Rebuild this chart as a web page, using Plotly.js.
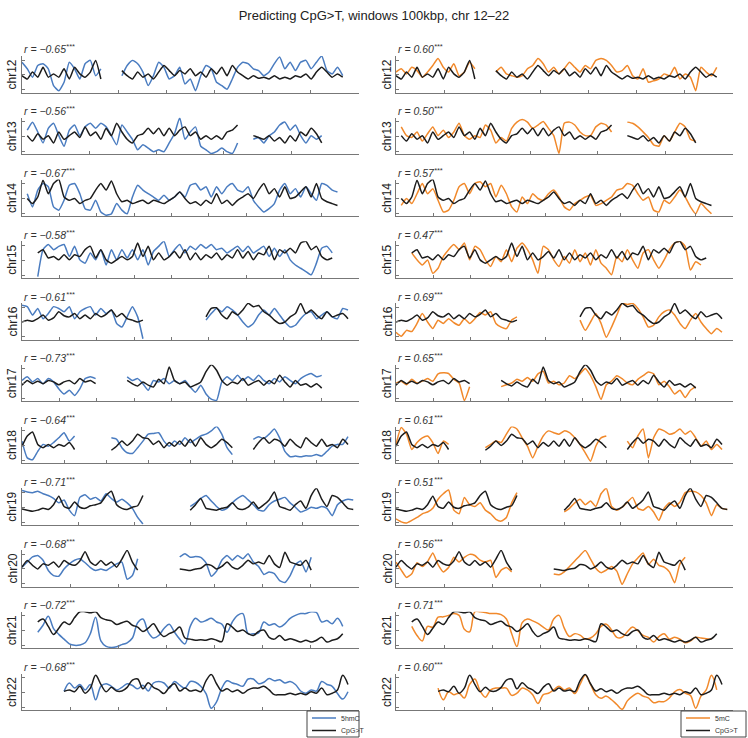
<!DOCTYPE html>
<html><head><meta charset="utf-8">
<script src="https://cdn.plot.ly/plotly-3.0.1.min.js"></script>
<style>html,body{margin:0;padding:0;background:#fff}#chart{width:748px;height:738px}</style>
</head><body><div id="chart"></div>
<script>
const _ = null;
const chromosomes = ['chr12','chr13','chr14','chr15','chr16','chr17','chr18','chr19','chr20','chr21','chr22'];
// x axis length (in 100 kbp windows) and tick spacing per chromosome
const axisMax  = [1400,1000,900,900,900,900,800,600,700,350,350];
const tickStep = [200,200,100,100,100,100,100,100,100,50,50];
const rHmC = ['\u22120.65','\u22120.56','\u22120.67','\u22120.58','\u22120.61','\u22120.73','\u22120.64','\u22120.71','\u22120.68','\u22120.72','\u22120.68'];
const rMC  = ['0.60','0.50','0.57','0.47','0.69','0.65','0.61','0.51','0.56','0.71','0.60'];
const legendLeft  = ['5hmC','CpG>T'];
const legendRight = ['5mC','CpG>T'];

// 65 samples per chromosome (index i -> window i*axisMax/64), normalised signal 0-100
const cpg12 = [46,37,56,42,69,42,51,42,65,37,69,51,42,56,88,37,_,_,_,60,46,37,56,42,51,37,56,74,60,46,60,51,65,46,56,42,65,51,69,46,74,56,46,37,46,39,42,37,46,37,42,37,46,42,51,37,56,69,56,42,51,42,_,_,_];
const hmc12 = [83,65,42,74,79,65,19,5,28,83,65,37,79,88,46,65,_,_,_,46,74,88,79,56,19,46,83,69,37,46,69,23,37,5,46,74,65,28,19,9,37,69,83,79,65,60,46,56,79,97,65,83,60,83,88,65,83,100,60,51,69,46,_,_,_];
const mc12  = [56,65,51,69,60,42,56,74,93,69,56,79,46,56,83,65,_,_,_,56,69,51,46,42,46,65,74,93,79,56,69,51,65,83,69,56,74,65,88,93,88,74,56,60,74,46,37,65,28,32,37,51,46,69,37,51,42,5,69,56,46,69,_,_,_];

const cpg13 = [_,51,36,56,41,51,31,61,41,51,61,46,75,51,61,41,71,51,85,61,41,31,51,56,71,56,71,51,71,51,66,75,51,61,41,51,41,51,41,61,66,80,_,_,51,46,41,51,36,46,31,51,36,61,51,71,56,31,_,_,_,_,_,_,_];
const hmc13 = [_,66,88,61,31,71,85,51,22,66,80,51,75,85,71,85,75,51,26,80,61,41,12,26,17,7,12,7,31,56,100,41,61,75,22,12,2,7,17,7,2,31,_,_,41,46,31,51,61,80,88,66,80,51,31,51,41,51,_,_,_,_,_,_,_];
const mc13  = [_,75,51,46,61,36,56,75,51,66,46,61,85,51,41,51,46,80,66,31,46,36,71,88,95,88,71,80,90,71,51,2,85,88,80,61,51,51,75,85,80,61,_,_,88,85,75,61,46,26,22,51,36,61,85,75,41,36,_,_,_,_,_,_,_];

const cpg14 = [_,48,34,52,98,61,89,100,52,43,48,34,43,48,71,89,71,96,61,39,43,34,39,43,34,43,39,34,43,52,66,48,34,39,29,43,34,61,34,43,29,43,52,61,48,71,89,61,75,52,80,48,52,66,80,52,89,48,39,34,29,_,_,_,_];
const hmc14 = [_,61,25,71,89,80,25,16,43,84,89,61,20,16,43,11,2,6,34,16,6,52,84,71,61,52,43,57,43,52,66,52,84,89,71,80,52,80,61,80,89,71,66,80,43,25,11,20,34,71,89,61,75,52,80,61,43,89,84,71,66,_,_,_,_];
const mc14  = [_,29,48,34,61,89,61,75,43,11,16,43,80,89,61,89,94,80,89,52,84,61,25,11,52,34,61,48,43,61,71,52,25,16,34,43,52,57,29,34,43,52,71,75,89,84,61,43,52,16,11,43,34,52,71,52,25,6,34,20,6,_,_,_,_];

const cpg15 = [_,_,_,68,77,54,58,49,63,49,63,58,77,86,54,77,49,40,49,58,49,58,95,58,86,49,68,49,58,72,54,77,49,68,49,63,54,68,49,63,54,77,54,72,49,68,63,86,49,77,68,81,68,95,100,77,86,58,49,54,_,_,_,_,_];
const hmc15 = [_,_,_,3,77,91,77,86,91,58,86,49,40,68,49,77,35,77,49,77,54,77,49,77,35,72,86,100,58,77,91,68,86,77,91,81,91,77,81,68,77,86,72,86,68,77,86,58,81,58,77,49,35,26,17,8,40,81,86,68,_,_,_,_,_];
const mc15  = [_,_,_,68,49,35,49,12,26,58,77,91,77,95,49,86,77,49,31,58,44,77,44,81,95,77,49,12,86,77,49,31,58,40,77,44,68,35,77,40,26,8,58,44,77,49,26,68,77,49,26,49,77,95,100,86,21,44,35,_,_,_,_,_,_];

const cpg16 = [48,53,50,57,67,53,59,76,65,62,71,57,67,57,71,62,69,81,62,71,57,53,48,53,_,_,_,_,_,_,_,_,_,_,_,62,85,87,67,57,76,67,81,99,90,93,76,67,53,44,48,62,71,99,71,81,67,57,76,62,67,71,57,_,_];
const hmc16 = [94,90,67,85,57,71,90,85,76,90,57,76,85,90,67,85,71,81,44,34,62,90,62,2,_,_,_,_,_,_,_,_,_,_,_,53,71,85,76,90,81,67,48,34,44,67,81,67,85,67,48,34,39,57,71,76,57,67,76,62,57,85,81,_,_];
const mc16  = [20,9,25,22,44,71,48,30,53,44,57,46,39,57,44,57,74,67,76,44,34,30,53,62,_,_,_,_,_,_,_,_,_,_,_,53,25,48,71,44,6,34,67,99,96,99,85,62,34,39,62,76,81,67,44,30,53,71,48,30,16,30,20,_,_];

const cpg17 = [44,57,48,55,48,57,53,45,53,57,48,62,53,57,48,_,_,_,_,_,57,48,42,53,44,39,60,48,94,57,48,53,39,45,53,81,100,85,57,44,53,48,62,44,51,57,44,57,48,71,53,39,57,44,48,39,48,36,_,_,_,_,_,_,_];
const hmc17 = [57,67,53,62,48,62,53,34,20,30,16,34,62,67,62,_,_,_,_,_,67,57,62,48,30,57,53,62,48,57,48,57,39,25,44,20,6,2,53,67,57,71,57,67,57,71,57,48,62,53,67,57,48,62,71,76,67,71,_,_,_,_,_,_,_];
const mc17  = [50,55,45,60,50,55,62,55,75,78,76,60,50,2,40,_,_,_,_,_,40,45,50,60,55,65,55,75,82,50,55,45,50,70,62,75,90,70,40,5,45,55,70,62,50,45,60,70,80,75,45,55,40,20,30,10,30,40,_,_,_,_,_,_,_];

const cpg18 = [46,74,85,51,42,51,42,51,46,56,37,_,_,_,_,_,_,35,46,60,48,60,79,69,67,51,60,42,56,46,60,46,65,46,69,51,42,51,65,56,42,_,_,_,37,56,69,54,65,60,46,65,51,42,69,56,46,65,46,51,42,65,51,_,_];
const hmc18 = [60,14,9,32,51,46,56,69,83,60,74,_,_,_,_,_,_,69,65,42,28,26,42,60,79,81,83,60,46,60,51,69,56,65,74,79,88,100,79,42,23,_,_,_,65,72,67,79,93,69,32,17,19,17,20,19,23,19,32,46,51,51,72,_,_];
const mc18  = [51,97,79,37,56,69,74,56,26,60,51,_,_,_,_,_,_,42,51,60,56,79,100,93,69,46,14,46,74,88,83,79,88,83,69,51,28,5,46,69,74,_,_,_,60,42,74,93,14,69,93,88,79,83,93,79,88,69,46,60,37,51,37,_,_];

const cpg19 = [43,40,37,40,45,42,55,78,50,45,62,48,45,52,55,60,80,92,55,45,42,48,52,80,_,_,_,_,_,_,_,_,40,55,72,45,42,40,45,48,60,45,42,48,62,45,55,68,90,50,45,40,55,65,45,80,100,70,50,80,75,60,45,42,_];
const hmc19 = [94,90,88,92,85,80,72,60,68,40,25,75,82,70,75,65,85,72,62,70,60,45,20,2,_,_,_,_,_,_,_,_,50,60,72,80,65,50,40,45,60,72,80,68,55,40,38,55,65,70,75,60,48,35,40,48,45,50,45,25,55,65,70,68,_];
const mc19  = [16,8,5,12,20,30,35,45,70,85,95,40,30,75,55,50,60,40,30,15,10,20,60,88,_,_,_,_,_,_,_,_,35,45,60,70,55,65,50,85,100,50,40,48,62,75,45,40,50,35,12,45,60,50,62,88,92,90,80,60,25,55,45,42,_];

const cpg20 = [53,71,58,48,62,58,67,53,71,62,58,70,95,67,58,71,58,67,53,75,99,67,45,_,_,_,_,_,_,_,48,46,44,48,50,60,58,48,55,67,53,48,58,72,62,67,62,85,62,52,94,67,62,58,72,45,_,_,_,_,_,_,_,_,_];
const hmc20 = [53,67,81,85,72,44,30,28,48,62,72,76,65,52,44,48,44,53,62,67,20,30,76,_,_,_,_,_,_,_,81,90,80,82,80,65,28,42,72,85,72,85,76,90,67,55,33,40,35,16,11,30,60,70,40,80,_,_,_,_,_,_,_,_,_];
const mc20  = [67,45,25,35,65,55,68,92,60,40,52,80,67,80,88,85,72,67,72,25,45,52,40,_,_,_,_,_,_,_,34,32,40,55,70,85,99,75,50,38,45,55,42,6,35,62,78,92,60,75,58,53,40,10,62,80,_,_,_,_,_,_,_,_,_];

const cpg21 = [_,_,_,72,80,60,38,55,72,65,84,100,100,97,100,84,78,75,65,70,74,63,58,46,55,67,46,32,40,46,58,28,25,22,23,22,26,22,18,67,58,46,50,40,35,46,50,30,25,35,22,26,22,17,22,17,22,30,17,22,26,40,_,_,_];
const hmc21 = [_,_,_,44,63,88,54,38,25,12,8,9,15,40,85,20,5,2,4,10,15,28,70,80,44,28,35,54,66,44,25,12,60,82,72,76,82,72,66,44,72,90,95,40,40,42,72,63,67,58,67,82,90,95,95,100,98,72,76,67,82,60,_,_,_];
const mc21  = [_,_,_,60,35,20,60,58,85,86,90,95,90,52,45,100,100,98,95,95,92,80,40,5,70,80,75,68,58,50,80,90,55,32,40,36,25,28,40,60,66,50,30,30,45,58,48,35,30,17,32,40,25,30,25,15,20,30,28,26,25,_,_,_,_];

const cpg22 = [_,_,_,_,_,_,_,_,51,55,50,65,46,60,95,70,50,62,52,52,62,82,85,58,75,62,55,45,62,72,52,60,52,55,50,80,97,72,52,58,50,55,46,55,60,60,65,55,42,42,42,46,42,46,42,50,46,60,42,46,55,95,70,_,_];
const hmc22 = [_,_,_,_,_,_,_,_,51,74,60,70,55,70,28,65,72,65,55,62,72,67,58,68,52,74,78,74,60,78,68,60,78,76,65,45,5,22,60,80,74,70,65,85,85,72,76,86,80,83,74,78,70,52,46,55,52,78,70,65,45,30,50,_,_];
const mc22  = [_,_,_,_,_,_,_,_,60,28,50,42,46,33,70,85,52,35,55,60,60,60,40,46,60,55,42,18,42,46,55,65,55,60,45,70,95,70,42,32,38,28,15,2,25,38,46,38,33,20,23,23,33,50,56,46,40,5,38,55,95,55,_,_,_];

const cpgT = [cpg12,cpg13,cpg14,cpg15,cpg16,cpg17,cpg18,cpg19,cpg20,cpg21,cpg22];
const hmC  = [hmc12,hmc13,hmc14,hmc15,hmc16,hmc17,hmc18,hmc19,hmc20,hmc21,hmc22];
const mC   = [mc12,mc13,mc14,mc15,mc16,mc17,mc18,mc19,mc20,mc21,mc22];

const BLUE = '#4a7cc0', ORANGE = '#f1892b', BLACK = '#1c1c1c';
const W = 748, H = 738;
const traces = [], annotations = [], shapes = [];
const layout = {
  width: W, height: H, margin: {l:0, r:0, t:0, b:0},
  paper_bgcolor: '#fff', plot_bgcolor: '#fff',
  font: {family: '"Liberation Sans", Arial, sans-serif', color: '#222'},
  title: {text: 'Predicting CpG>T, windows 100kbp, chr 12\u201322', x: 0.5, xanchor: 'center',
          y: 1 - 15/H, yanchor: 'middle', font: {size: 13, color: '#222'}},
  showlegend: false,
  annotations: annotations, shapes: shapes
};

const colX = [[22, 358.5], [396, 732.5]];
for (let k = 0; k < chromosomes.length; k++) {
  const step = axisMax[k] / 64;
  const xs = arr => arr.map((v, i) => i * step);
  const bottom = 92.5 + k * 61.75, top = bottom - 36.5;
  const smooth = k >= 9 ? {shape: 'spline', smoothing: 1.0} : {shape: 'spline', smoothing: 0.5};
  for (let c = 0; c < 2; c++) {
    const idx = 2 * k + c + 1;
    const xa = idx === 1 ? 'x' : 'x' + idx, ya = idx === 1 ? 'y' : 'y' + idx;
    const xkey = idx === 1 ? 'xaxis' : 'xaxis' + idx, ykey = idx === 1 ? 'yaxis' : 'yaxis' + idx;
    layout[xkey] = {domain: [colX[c][0]/W, colX[c][1]/W], anchor: ya, range: [0, axisMax[k]],
      tick0: 0, dtick: tickStep[k], ticks: 'inside', ticklen: 3, tickcolor: '#777',
      showticklabels: false, showgrid: false, zeroline: false, showline: true,
      linecolor: '#777', linewidth: 1, fixedrange: true};
    layout[ykey] = {domain: [1 - bottom/H, 1 - top/H], anchor: xa, range: [0, 100],
      tickvals: [7, 48, 89], ticks: 'inside', ticklen: 3, tickcolor: '#777',
      showticklabels: false, showgrid: false, zeroline: false, showline: true,
      linecolor: '#777', linewidth: 1, fixedrange: true};
    const col = c === 0 ? hmC[k] : mC[k];
    traces.push({type: 'scatter', mode: 'lines', x: xs(col), y: col, xaxis: xa, yaxis: ya,
      line: Object.assign({color: c === 0 ? BLUE : ORANGE, width: 1.5}, smooth), connectgaps: false,
      name: c === 0 ? '5hmC' : '5mC', hoverinfo: 'skip'});
    traces.push({type: 'scatter', mode: 'lines', x: xs(cpgT[k]), y: cpgT[k], xaxis: xa, yaxis: ya,
      line: Object.assign({color: BLACK, width: 1.5}, smooth), connectgaps: false,
      name: 'CpG>T', hoverinfo: 'skip'});
    annotations.push({xref: 'paper', yref: 'paper', x: colX[c][0]/W, y: 1 - (top - 7)/H,
      xanchor: 'left', yanchor: 'middle', showarrow: false,
      text: '<i>r = ' + (c === 0 ? rHmC[k] : rMC[k]) + '<sup>***</sup></i>',
      font: {size: 10.5, color: '#333'}});
    annotations.push({xref: 'paper', yref: 'paper', x: (c === 0 ? 12 : 387)/W, y: 1 - (bottom - 18)/H,
      xanchor: 'center', yanchor: 'middle', showarrow: false, textangle: -90,
      text: chromosomes[k], font: {size: 12, color: '#222'}});
  }
}

// compact legend boxes (one per column)
const legendBoxes = [
  {x0: 307, x1: 359, labels: legendLeft,  colors: [BLUE, BLACK]},
  {x0: 681, x1: 746, labels: legendRight, colors: [ORANGE, BLACK]}
];
legendBoxes.forEach(b => {
  shapes.push({type: 'rect', xref: 'paper', yref: 'paper', x0: b.x0/W, x1: b.x1/W,
    y0: 1 - 737/H, y1: 1 - 711/H, line: {color: '#444', width: 1}, fillcolor: '#fff'});
  b.labels.forEach((lab, j) => {
    const yy = 1 - (718 + j * 12.5)/H;
    shapes.push({type: 'line', xref: 'paper', yref: 'paper', x0: (b.x0 + 5)/W, x1: (b.x0 + 29)/W,
      y0: yy, y1: yy, line: {color: b.colors[j], width: 1.5}});
    annotations.push({xref: 'paper', yref: 'paper', x: (b.x0 + 32)/W, y: yy, xanchor: 'left',
      yanchor: 'middle', showarrow: false, text: lab, font: {size: 7, color: '#333'}});
  });
});

Plotly.newPlot('chart', traces, layout, {displayModeBar: false});
</script></body></html>
